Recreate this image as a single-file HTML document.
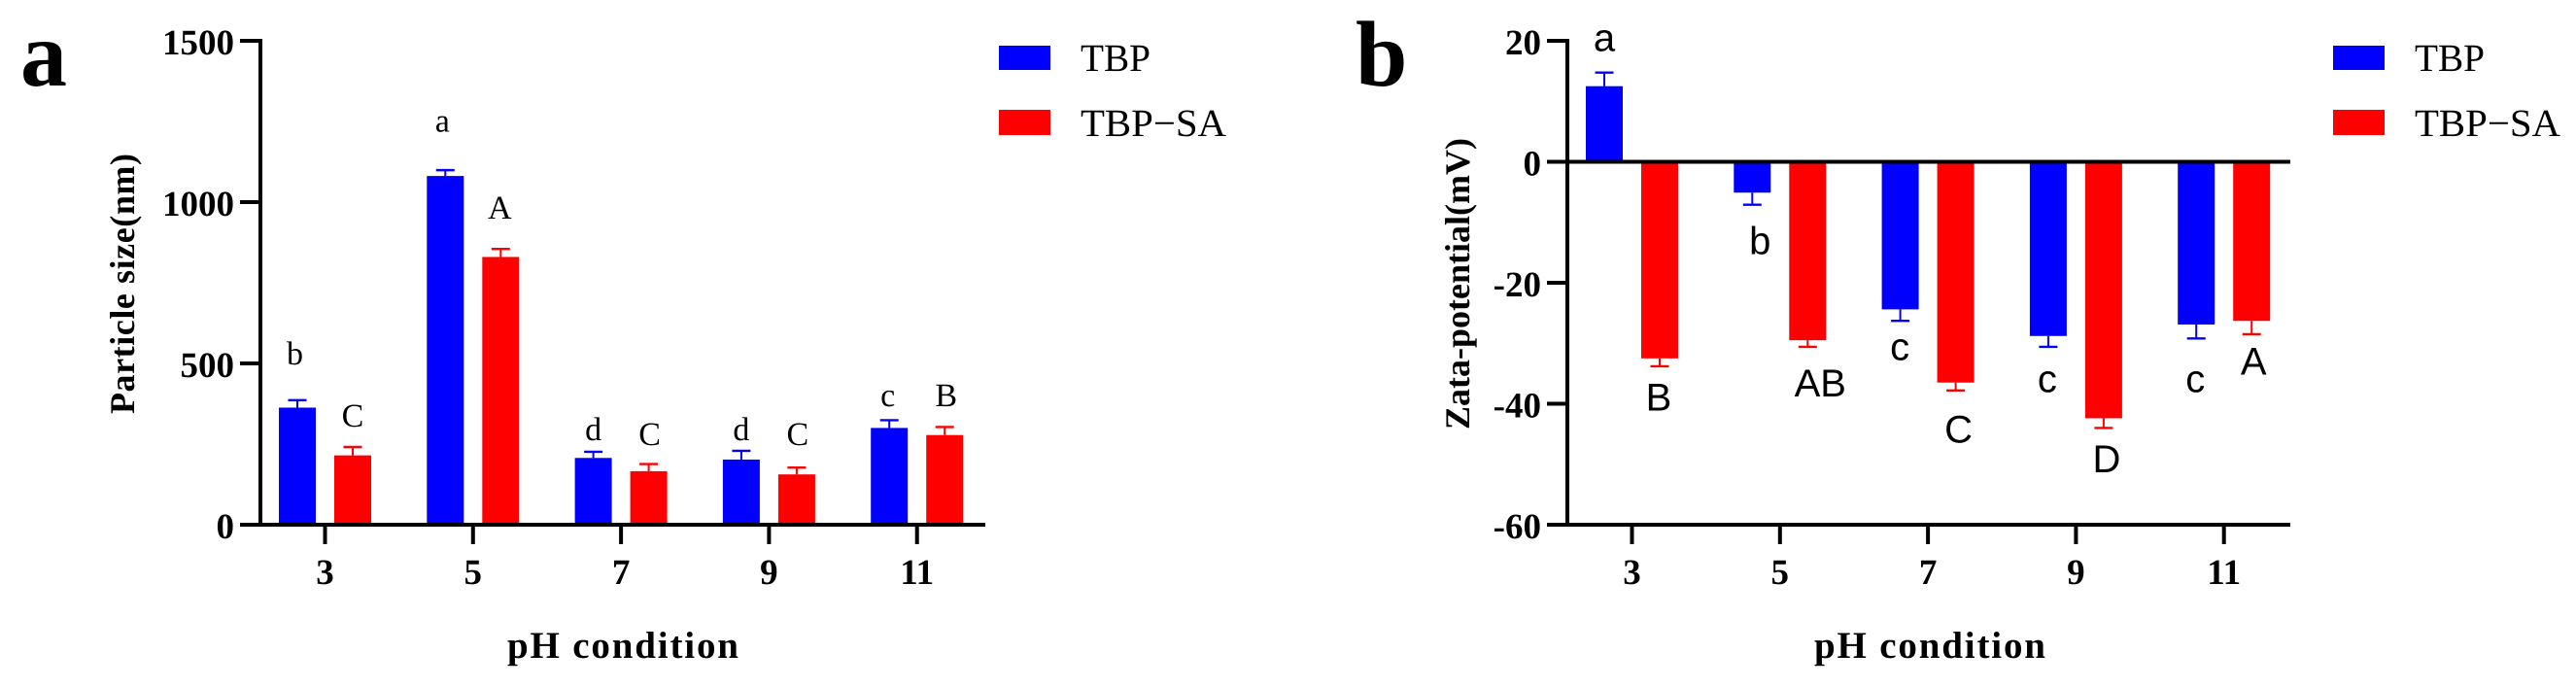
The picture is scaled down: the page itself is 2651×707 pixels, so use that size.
<!DOCTYPE html>
<html lang="en">
<head>
<meta charset="utf-8">
<title>Particle size and zeta potential by pH</title>
<style>
html,body{margin:0;padding:0;background:#fff;width:2651px;height:707px;overflow:hidden}
svg{display:block;text-rendering:geometricPrecision}
.bold{font-family:"Liberation Serif",serif;font-weight:bold;fill:#000}
.serif{font-family:"Liberation Serif",serif;fill:#000}
.sans{font-family:"Liberation Sans",sans-serif;fill:#000}
</style>
</head>
<body>
<svg id="figure" xmlns="http://www.w3.org/2000/svg" width="2651" height="707" viewBox="0 0 2651 707">
  <rect x="0" y="0" width="2651" height="707" fill="#fff"/>

  <g id="panel-a">
    <text class="bold" x="21" y="88" font-size="96">a</text>
    <text class="bold" font-size="36" transform="translate(138,426) rotate(-90)" textLength="268" lengthAdjust="spacing">Particle size(nm)</text>
    <text class="bold" x="522" y="677" font-size="39" textLength="238" lengthAdjust="spacing">pH condition</text>
    <rect x="1028" y="47" width="53" height="25" fill="#0000ff"/>
    <text class="serif" x="1112" y="73" font-size="40" textLength="72" lengthAdjust="spacingAndGlyphs">TBP</text>
    <rect x="1028" y="113" width="53" height="26" fill="#ff0000"/>
    <text class="serif" x="1112" y="140" font-size="40" textLength="150" lengthAdjust="spacingAndGlyphs">TBP−SA</text>
  </g>

  <g id="panel-b">
    <text class="bold" x="1395" y="88" font-size="96">b</text>
    <text class="bold" font-size="36" transform="translate(1512,442) rotate(-90)" textLength="300" lengthAdjust="spacing">Zata-potential(mV)</text>
    <text class="bold" x="1867" y="677" font-size="39" textLength="238" lengthAdjust="spacing">pH condition</text>
    <rect x="2401" y="47" width="53" height="25" fill="#0000ff"/>
    <text class="serif" x="2485" y="73" font-size="40" textLength="72" lengthAdjust="spacingAndGlyphs">TBP</text>
    <rect x="2401" y="113" width="53" height="26" fill="#ff0000"/>
    <text class="serif" x="2485" y="140" font-size="40" textLength="150" lengthAdjust="spacingAndGlyphs">TBP−SA</text>
  </g>
</svg>

<script>
// Shared categories
const categories = ['3', '5', '7', '9', '11'];

// Panel a: particle size (nm)
const sizeTicks = [0, 500, 1000, 1500];
const sizeTbp = [363, 1081, 207, 202, 300];
const sizeTbpErr = [23, 18, 19, 27, 24];
const sizeSa = [215, 830, 166, 156, 278];
const sizeSaErr = [26, 25, 22, 21, 25];
const sizeTbpLetters = ['b', 'a', 'd', 'd', 'c'];
const sizeSaLetters = ['C', 'A', 'C', 'C', 'B'];
const sizeTbpLetterLevels = [497, 1218, 262, 262, 367];
const sizeSaLetterLevels = [304, 949, 247, 247, 367];

// Panel b: zeta potential (mV)
const zetaTicks = [-60, -40, -20, 0, 20];
const zetaTbp = [12.5, -5.1, -24.4, -28.8, -26.9];
const zetaTbpErr = [2.25, 2.0, 1.9, 1.8, 2.3];
const zetaSa = [-32.5, -29.5, -36.5, -42.4, -26.3];
const zetaSaErr = [1.3, 1.1, 1.3, 1.6, 2.2];
const zetaTbpLetters = ['a', 'b', 'c', 'c', 'c'];
const zetaSaLetters = ['B', 'AB', 'C', 'D', 'A'];
const zetaTbpLetterLevels = [18.3, -15.3, -32.8, -38.1, -38.1];
const zetaSaLetterLevels = [-41.1, -38.8, -46.4, -51.3, -35.2];

const NS = 'http://www.w3.org/2000/svg';

function make(parent, tag, attrs, text) {
  const node = document.createElementNS(NS, tag);
  for (const key in attrs) node.setAttribute(key, attrs[key]);
  if (text !== undefined) node.textContent = text;
  parent.appendChild(node);
  return node;
}

function linear(d0, d1, r0, r1) {
  return function (v) { return r0 + (v - d0) * (r1 - r0) / (d1 - d0); };
}

function drawPanel(cfg) {
  const g = document.getElementById(cfg.id);
  const y = linear(cfg.domain[0], cfg.domain[1], 540, 42);
  const x = linear(0, categories.length - 1, cfg.firstTick, cfg.firstTick + 152.3 * (categories.length - 1));
  const base = y(Math.max(cfg.domain[0], 0));
  const barW = 38;
  const offset = 28.5;

  const series = [
    { key: 'tbp', color: '#0000ff', sign: -1, values: cfg.tbp, errs: cfg.tbpErr, letters: cfg.tbpLetters, levels: cfg.tbpLevels, nudge: cfg.tbpNudge },
    { key: 'tbp-sa', color: '#ff0000', sign: 1, values: cfg.sa, errs: cfg.saErr, letters: cfg.saLetters, levels: cfg.saLevels, nudge: cfg.saNudge }
  ];

  series.forEach(function (s) {
    s.values.forEach(function (v, i) {
      const cx = x(i) + s.sign * offset;
      const yVal = y(v);
      const yErr = y(v + (v >= 0 ? s.errs[i] : -s.errs[i]));

      const stem = make(g, 'line', { x1: cx, x2: cx, y1: yVal, y2: yErr, stroke: s.color, 'stroke-width': 2 });
      
      

      const cap = make(g, 'line', { x1: cx - 9.5, x2: cx + 9.5, y1: yErr, y2: yErr, stroke: s.color, 'stroke-width': 2.4 });
      
      

      const bar = make(g, 'rect', { x: cx - barW / 2, y: Math.min(yVal, base), width: barW, height: Math.abs(base - yVal), fill: s.color });
      
      

      const letter = make(g, 'text', {
        x: cx + s.nudge[i], y: y(s.levels[i]), 'text-anchor': 'middle',
        class: cfg.letterClass, 'font-size': cfg.letterSize
      }, s.letters[i]);
      
      
    });
  });

  // Y axis line
  const yAxis = make(g, 'line', { x1: cfg.axisX, x2: cfg.axisX, y1: 40, y2: 542, stroke: '#000', 'stroke-width': 4 });
  
  

  // Bottom X axis line
  const xAxis = make(g, 'line', { x1: cfg.axisX - 21, x2: cfg.axisEnd, y1: 540, y2: 540, stroke: '#000', 'stroke-width': 4 });
  
  

  // Y ticks and labels
  cfg.ticks.forEach(function (t) {
    const tick = make(g, 'line', { x1: cfg.axisX - 21, x2: cfg.axisX, y1: y(t), y2: y(t), stroke: '#000', 'stroke-width': 4 });
    
    

    const label = make(g, 'text', { x: cfg.axisX - 27, y: y(t) + 14, 'text-anchor': 'end', class: 'bold', 'font-size': 37 }, String(t));
    
    
  });

  // X ticks and labels
  categories.forEach(function (c, i) {
    const tick = make(g, 'line', { x1: x(i), x2: x(i), y1: 540, y2: 560, stroke: '#000', 'stroke-width': 4 });
    
    

    const label = make(g, 'text', { x: x(i), y: 601, 'text-anchor': 'middle', class: 'bold', 'font-size': 37 }, c);
    
    
  });

  // Zero reference line for charts that span negative and positive values
  if (cfg.domain[0] < 0) {
    const zero = make(g, 'line', { x1: cfg.axisX - 21, x2: cfg.axisEnd, y1: y(0), y2: y(0), stroke: '#000', 'stroke-width': 4 });
    
    
  }
}

drawPanel({
  id: 'panel-a', domain: [0, 1500], ticks: sizeTicks,
  axisX: 268, axisEnd: 1014, firstTick: 334.5,
  tbp: sizeTbp, tbpErr: sizeTbpErr, sa: sizeSa, saErr: sizeSaErr,
  tbpLetters: sizeTbpLetters, saLetters: sizeSaLetters,
  tbpLevels: sizeTbpLetterLevels, saLevels: sizeSaLetterLevels,
  tbpNudge: [-2.5, -3, 0, 0, -1.5], saNudge: [0, -1, 1, 1, 1.5],
  letterClass: 'serif', letterSize: 34
});

drawPanel({
  id: 'panel-b', domain: [-60, 20], ticks: zetaTicks,
  axisX: 1613, axisEnd: 2357, firstTick: 1679.5,
  tbp: zetaTbp, tbpErr: zetaTbpErr, sa: zetaSa, saErr: zetaSaErr,
  tbpLetters: zetaTbpLetters, saLetters: zetaSaLetters,
  tbpLevels: zetaTbpLetterLevels, saLevels: zetaSaLetterLevels,
  tbpNudge: [0, 8, -0.5, -1, -1], saNudge: [-1, 13, 3, 3, 2],
  letterClass: 'sans', letterSize: 40
});
</script>
</body>
</html>
